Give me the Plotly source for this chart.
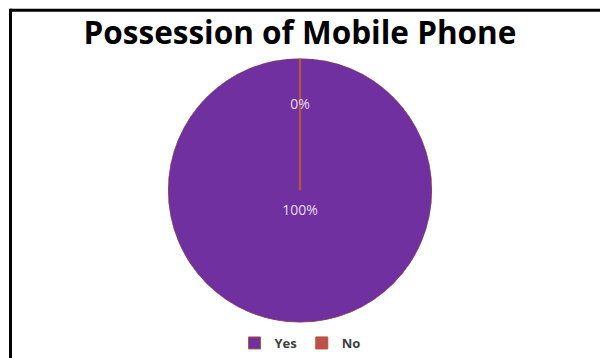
import plotly.graph_objects as go

# Survey result: possession of a mobile phone
labels = ["Yes", "No"]
values = [100, 0]
colors = ["#7030A0", "#C0504D"]

total = sum(values)
pcts = [v / total * 100 for v in values]
spans = [v / total * 360 for v in values]
starts = [sum(spans[:i]) for i in range(len(spans))]
mids = [s + w / 2 for s, w in zip(starts, spans)]

W, H = 600, 358
cx, cy, rad = 300, 193, 134
dom_x = [(cx - rad) / W, (cx + rad) / W]
dom_y = [1 - (cy + rad) / H, 1 - (cy - rad) / H]

fig = go.Figure()

# pie slices drawn as polar bars, clockwise from 12 o'clock
for lab, v, mid, span, col in zip(labels, values, mids, spans, colors):
    fig.add_trace(go.Barpolar(
        r=[1], theta=[mid], width=[span], name=lab,
        marker=dict(color=col, line=dict(color="#A85A3A", width=1)),
        hoverinfo="skip", showlegend=True,
    ))

# slice boundaries (radial edges)
for s in starts:
    if s % 360 == 0 and s != 0:
        continue
    fig.add_trace(go.Scatterpolar(
        r=[0, 1], theta=[s, s], mode="lines",
        line=dict(color="#B5553A", width=2.2),
        hoverinfo="skip", showlegend=False,
    ))

# percentage labels
label_r = [0.16 if p > 50 else 0.64 for p in pcts]
fig.add_trace(go.Scatterpolar(
    r=label_r, theta=mids, mode="text",
    text=[f"{p:.0f}%" for p in pcts],
    textfont=dict(family="Open Sans, sans-serif", size=14, color="#E6DCF2"),
    hoverinfo="skip", showlegend=False,
))

fig.update_layout(
    width=W, height=H,
    margin=dict(l=0, r=0, t=0, b=0),
    paper_bgcolor="white",
    plot_bgcolor="white",
    title=dict(
        text="Possession of Mobile Phone",
        x=0.5, xanchor="center", y=1 - 33 / H, yanchor="middle",
        font=dict(family="Open Sans, sans-serif", size=31.5, color="black", weight="bold"),
    ),
    polar=dict(
        domain=dict(x=dom_x, y=dom_y),
        bgcolor="rgba(0,0,0,0)",
        hole=0,
        radialaxis=dict(range=[0, 1], visible=False),
        angularaxis=dict(rotation=90, direction="clockwise", visible=False),
        bargap=0,
    ),
    legend=dict(
        orientation="h", x=0.5, xanchor="center", y=1 - 348 / H, yanchor="middle",
        font=dict(family="Open Sans, sans-serif", size=13, color="#404040", weight="bold"),
        itemwidth=30, tracegroupgap=0, bgcolor="rgba(0,0,0,0)",
    ),
    shapes=[
        dict(type="line", xref="paper", yref="paper",
             x0=10 / W, x1=1.02, y0=1 - 10.5 / H, y1=1 - 10.5 / H,
             line=dict(color="black", width=3)),
        dict(type="line", xref="paper", yref="paper",
             x0=10.5 / W, x1=10.5 / W, y0=-0.02, y1=1 - 9 / H,
             line=dict(color="black", width=3)),
    ],
)

fig.write_html("out.html")
